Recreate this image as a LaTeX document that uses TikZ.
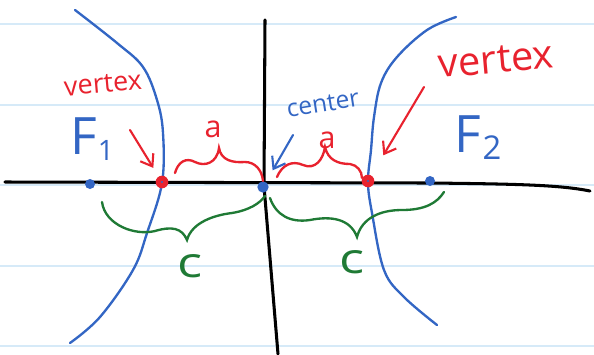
\documentclass[tikz,border=0pt]{standalone}
\usepackage{fontspec}
\setmainfont{Open Sans}
\usetikzlibrary{arrows.meta,calc}
\definecolor{ink}{HTML}{3366C4}
\definecolor{pen}{HTML}{E8222E}
\definecolor{leaf}{HTML}{1F7A35}
\definecolor{ruled}{HTML}{D6EAF8}
\tikzset{
  branch/.style={draw=ink, line width=2pt, line cap=round},
  axis/.style={draw=black, line width=2.6pt, line cap=round},
  dot/.style={circle, fill=ink, inner sep=0pt, minimum size=3mm},
  vtx/.style={circle, fill=pen, inner sep=0pt, minimum size=3.8mm},
  redarr/.style={-{Straight Barb[length=3.2mm, width=4.6mm]}, draw=pen, line width=1.8pt, line cap=round},
  bluearr/.style={redarr, draw=ink},
  redbrace/.style={draw=pen, line width=2pt, line cap=round},
  greenbrace/.style={draw=leaf, line width=2pt, line cap=round},
  redtxt/.style={text=pen, inner sep=0pt},
  bluetxt/.style={text=ink, inner sep=0pt},
  greentxt/.style={text=leaf, inner sep=0pt}}

\begin{document}
\begin{tikzpicture}[x=0.03cm, y=-0.03cm]
\useasboundingbox (0,0) rectangle (594,354);
% notebook rules
\foreach \yy in {24,105,185,266,346}
  \draw[ruled, line width=1pt] (0,\yy) -- (594,\yy);

% axes
\draw[axis] (5,182) -- (430,183) .. controls (520,184) and (560,185) .. (590,191);
\draw[axis] (265,20) -- (264,186) -- (278,354);

% the two branches
\draw[branch] plot[smooth, tension=0.6] coordinates {(75,10) (117,43) (143,67) (157,100) (163,133) (162,183) (147,233) (133,270) (100,317) (70,343)};
\draw[branch] plot[smooth, tension=0.6] coordinates {(456,17) (427,30) (397,57) (381,83) (374,117) (371,150) (368,182) (372,213) (384,270) (404,297) (437,325)};

% points on the axis
\node[dot] (f1) at (90,184) {};
\node[vtx] (v1) at (162,182) {};
\node[dot, minimum size=3.4mm] (ctr) at (263,187) {};
\node[vtx] (v2) at (368,181) {};
\node[dot] (f2) at (430,181) {};
\fill[ink] (v1) circle (0.35mm);
\fill[ink] (v2) circle (0.35mm);

% labels
\node[redtxt, font=\fontsize{23}{23}\selectfont, rotate=5] (lvtx) at (103,84) {vertex};
\node[redtxt, font=\fontsize{34}{34}\selectfont, rotate=5] (rvtx) at (496,60) {vertex};
\node[bluetxt, font=\fontsize{21}{21}\selectfont, rotate=9] (cent) at (323,104) {center};
\node[bluetxt, font=\fontsize{44}{44}\selectfont] (fa) at (92,139) {F\kern1pt\raisebox{-5pt}{\fontsize{24}{24}\selectfont 1}};
\node[bluetxt, font=\fontsize{44}{44}\selectfont] (fb) at (478,138) {F\kern1pt\raisebox{-6pt}{\fontsize{28}{28}\selectfont 2}};
\node[redtxt, font=\fontsize{26}{26}\selectfont] (la) at (213,129) {a};
\node[redtxt, font=\fontsize{26}{26}\selectfont] (ra) at (327,140) {a};
\node[greentxt, font=\fontsize{36}{36}\selectfont, xscale=1.25] (lc) at (190,266) {c};
\node[greentxt, font=\fontsize{36}{36}\selectfont, xscale=1.25] (rc) at (352,262) {c};

% pointers
\coordinate (lp) at (130,130);
\coordinate (rp) at (424,87);
\coordinate (cp) at (293,135);
\draw[redarr, shorten >=3mm] (lp) -- (v1);
\draw[redarr, shorten >=7mm] (rp) -- (v2);
\draw[bluearr, shorten >=4mm] (cp) -- (ctr);

% braces for a
\draw[redbrace] (175,173) .. controls (178,162) and (186,157) .. (195,162) .. controls (205,167) and (217,163) .. (219,148) .. controls (221,160) and (232,163) .. (245,162) .. controls (255,162) and (262,170) .. (263,181);
\draw[redbrace] (277,177) .. controls (282,165) and (292,160) .. (303,165) .. controls (315,170) and (323,160) .. (325,147) .. controls (328,160) and (338,164) .. (350,164) .. controls (357,165) and (362,171) .. (362,178);

% braces for c
\draw[greenbrace] (102,202) .. controls (105,225) and (135,236) .. (155,231) .. controls (172,226) and (182,228) .. (187,240) .. controls (192,222) and (215,215) .. (232,213) .. controls (250,210) and (260,203) .. (265,196);
\draw[greenbrace] (270,198) .. controls (276,215) and (290,223) .. (310,220) .. controls (330,216) and (350,218) .. (357,237) .. controls (362,218) and (380,210) .. (402,210) .. controls (425,210) and (437,203) .. (444,192);
\end{tikzpicture}
\end{document}
